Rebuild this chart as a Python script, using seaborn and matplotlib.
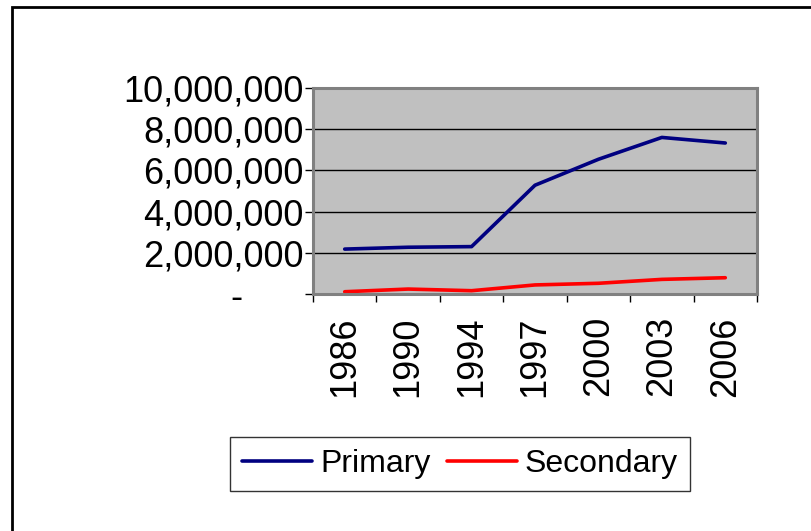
import matplotlib
matplotlib.use("Agg")
import matplotlib.pyplot as plt
from matplotlib.patches import Rectangle
from matplotlib.ticker import FixedLocator, FuncFormatter
import pandas as pd
import seaborn as sns

years = ["1986", "1990", "1994", "1997", "2000", "2003", "2006"]
primary = [2180000, 2270000, 2300000, 5280000, 6540000, 7600000, 7330000]
secondary = [110000, 240000, 160000, 440000, 520000, 710000, 790000]
series_names = ["Primary", "Secondary"]
series_colors = ["#000080", "#FF0000"]

df = pd.DataFrame({
    "year": years * 2,
    "pos": list(range(len(years))) * 2,
    "value": primary + secondary,
    "series": [series_names[0]] * len(years) + [series_names[1]] * len(years),
})

sns.set_style("white")
plt.rcParams["font.family"] = ["Liberation Sans", "DejaVu Sans"]
plt.rcParams["text.color"] = "black"
plt.rcParams["xtick.color"] = "black"
plt.rcParams["ytick.color"] = "black"

fig = plt.figure(figsize=(8.12, 5.31), dpi=100)
ax = fig.add_axes([313 / 812, 1 - 294 / 531, 444 / 812, 206 / 531])
ax.set_facecolor("#C0C0C0")

sns.lineplot(data=df, x="pos", y="value", hue="series",
             palette=dict(zip(series_names, series_colors)),
             linewidth=2.6, ax=ax, legend=True)

ax.set_xlim(-0.5, len(years) - 0.5)
ax.set_ylim(0, 10000000)
ax.set_yticks(range(0, 10000001, 2000000))
ax.yaxis.set_major_formatter(FuncFormatter(
    lambda v, p: "-      " if v == 0 else f"{int(v):,}"))
ax.yaxis.grid(True, color="black", linewidth=1.0)
ax.set_axisbelow(True)

ax.set_xticks(range(len(years)))
ax.set_xticklabels(years, rotation=90)
ax.xaxis.set_minor_locator(FixedLocator([i - 0.5 for i in range(len(years) + 1)]))
ax.tick_params(axis="x", which="major", bottom=True, length=0, labelsize=26,
               pad=16, labelcolor="black")
ax.tick_params(axis="x", which="minor", bottom=True, length=6, width=1,
               color="black", direction="out")
ax.tick_params(axis="y", left=True, length=6, width=1, color="black",
               direction="out", labelsize=26, pad=1, labelcolor="black")
ax.set_xlabel("")
ax.set_ylabel("")

for s in ax.spines.values():
    s.set_color("#808080")
    s.set_linewidth(2.2)

handles, labels = ax.get_legend_handles_labels()
ax.legend_.remove()
leg = fig.legend(handles, labels, loc="center", bbox_to_anchor=(460 / 812, 1 - 464 / 531),
                 ncol=2, fontsize=23, frameon=True, fancybox=False,
                 edgecolor="black", handlelength=2.2, handletextpad=0.25,
                 columnspacing=0.5, borderpad=0.38, borderaxespad=0)
leg.get_frame().set_linewidth(1.0)
for t in leg.get_texts():
    t.set_color("black")

fig.patches.append(Rectangle((12 / 812, -0.1), 1.2, 1.1 - 7 / 531,
                             transform=fig.transFigure, fill=False,
                             edgecolor="black", linewidth=2))

fig.savefig("out.png", dpi=100)
